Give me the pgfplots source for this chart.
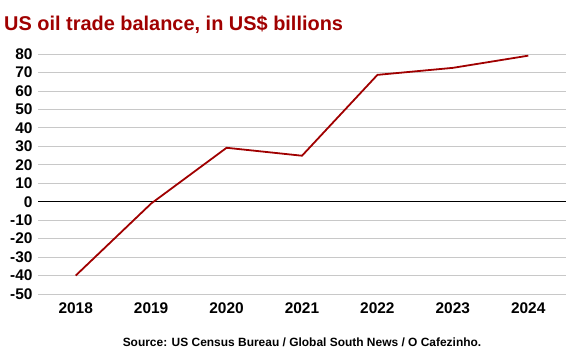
\documentclass[border=0pt]{standalone}
\usepackage{pgfplots}
\pgfplotsset{compat=1.18}
\usepackage{fontspec}
\setmainfont{Liberation Sans}
\definecolor{dred}{HTML}{A00000}
\definecolor{gridc}{HTML}{C8C8C8}
\begin{document}
\begin{tikzpicture}[x=1bp,y=1bp]
\useasboundingbox (0,0) rectangle (579,355);
\begin{axis}[
  at={(38bp,61bp)}, anchor=south west,
  scale only axis, width=528bp, height=240bp,
  xmin=2017.5, xmax=2024.5, ymin=-50, ymax=80,
  axis line style={draw=none},
  major tick length=0pt,
  xtick={2018,...,2024},
  ytick={-50,-40,...,80},
  xticklabel style={font=\fontsize{15.5}{18}\selectfont\bfseries, yshift=-5bp},
  yticklabel style={font=\fontsize{15.5}{18}\selectfont\bfseries, xshift=-2bp},
  /pgf/number format/assume math mode=true,
  /pgf/number format/1000 sep={},
  ymajorgrids, grid style={gridc, line width=0.8pt},
  clip=false,
]
\draw[black, line width=0.7pt] (axis cs:2017.5,0) -- (axis cs:2024.5,0);
\addplot[dred, line width=1.8pt, mark=none] coordinates {
 (2018,-40) (2019,-1) (2020,29.2) (2021,24.9) (2022,68.7) (2023,72.5) (2024,79.1)
};
\end{axis}
\node[anchor=base west, text=dred, font=\fontsize{20}{24}\selectfont\bfseries, inner sep=0] at (4,325) {US oil trade balance, in US\$ billions};
\node[anchor=base, font=\fontsize{12}{14}\selectfont\bfseries, inner sep=0] at (302,9) {Source: US Census Bureau / Global South News / O Cafezinho.};
\end{tikzpicture}
\end{document}
